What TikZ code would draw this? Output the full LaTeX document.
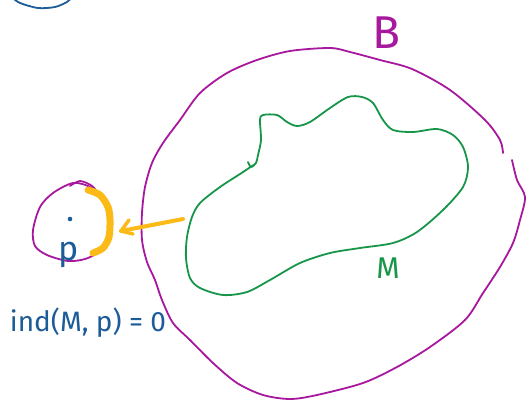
\documentclass[tikz,border=0pt]{standalone}
\usepackage{fontspec}
\setmainfont{Fira Sans}
\definecolor{mag}{HTML}{A8189E}
\definecolor{grn}{HTML}{17964A}
\definecolor{blu}{HTML}{1C5C98}
\definecolor{ylw}{HTML}{FBBA16}
\begin{document}
\begin{tikzpicture}[x=1pt,y=-1pt,
  pen/.style={line width=1.8pt, line cap=round, line join=round},
  marker/.style={line width=7pt, line cap=round, line join=round, ylw},
  lbl/.style={inner sep=0pt, font=\fontsize{#1}{#1}\selectfont}]
\useasboundingbox (0,0) rectangle (532,402);
\fill[white] (0,0) rectangle (532,402);

% top-left blue arc
\draw[pen,blu] plot[smooth] coordinates {(13,-2) (20,3) (38,8) (55,7) (67,2) (71,-2)};

% outer curve B
\draw[pen,mag] plot[smooth] coordinates {(512,160) (517,180) (525,197) (520,220) (513,243) (500,267) (483,293) (465,320) (430,347) (397,367) (363,383) (317,395) (290,399) (263,395) (237,383) (213,363) (190,340) (173,323) (162,300) (155,280) (147,262) (142,240) (142,213) (145,187) (152,163) (163,143) (180,120) (200,93) (227,73) (257,60) (290,51) (330,48) (350,52) (380,60) (412,69) (450,90) (485,120) (500,140) (503,153)};
\node[lbl=46, text=mag] (B) at (386,33) {B};

% inner curve M
\draw[pen,grn] plot[smooth] coordinates {(248,162) (251,167) (256,163) (258,155) (261,140) (260,120) (263,115) (277,115) (287,122) (297,126) (310,122) (330,108) (348,97) (362,97) (373,103) (383,120) (393,130) (413,132) (437,129) (453,135) (463,147) (468,167) (463,187) (443,210) (417,232) (393,243) (360,248) (330,253) (300,263) (270,280) (247,292) (223,295) (200,288) (190,278) (186,258) (187,237) (192,217) (200,203) (220,187) (240,174) (255,164)};
\node[lbl=30, text=grn] (M) at (388,268) {M};

% small region around p
\draw[pen,mag] plot[smooth cycle] coordinates {(40,207) (53,193) (73,183) (90,187) (102,199) (108,215) (107,237) (98,252) (85,259) (68,261) (47,255) (35,246) (33,230)};
\draw[pen,mag] plot[smooth] coordinates {(70,186) (80,181) (92,186) (100,196)};
\fill[blu] (70,219) circle (2.3pt) coordinate (pt);
\node[lbl=34, text=blu] (p) at (69,255) {p};

% yellow marker arc
\draw[marker] plot[smooth] coordinates {(88,190) (100,195) (108,207) (110,220) (109,237) (103,248) (93,253)};

% yellow arrow
\coordinate (a0) at (183,219);
\coordinate (a1) at (121,231);
\coordinate (h1) at (129,220);
\coordinate (h2) at (133,234);
\draw[line width=4pt, line cap=round, line join=round, ylw] (a0) -- (a1);
\draw[line width=3.5pt, line cap=round, line join=round, ylw] (h1) -- (a1) -- (h2);

% index label
\node[lbl=28, text=blu] (ind) at (88,323) {ind(M, p) = 0};
\end{tikzpicture}
\end{document}
